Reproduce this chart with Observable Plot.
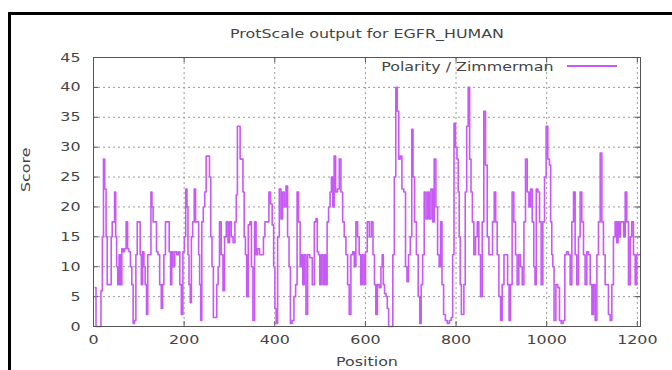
<!DOCTYPE html>
<html><head><meta charset="utf-8">
<script src="https://cdn.jsdelivr.net/npm/d3@7"></script>
<script src="https://cdn.jsdelivr.net/npm/@observablehq/plot@0.6"></script>
<style>
body{margin:0;background:#fff;}
#wrap{position:relative;width:672px;height:370px;overflow:hidden;font-family:"DejaVu Sans",sans-serif;background:#fff;}
#border{position:absolute;left:8px;top:12px;width:700px;height:400px;border-left:3px solid #000;border-top:3px solid #000;pointer-events:none;}
#swatch{position:absolute;left:567px;top:65px;width:50px;height:2px;background:#c75af5;}
#wrap svg{position:absolute;left:0;top:0;}
</style></head><body>
<div id="wrap"><div id="border"></div><div id="swatch"></div></div>
<script>
const title = "ProtScale output for EGFR_HUMAN";
const seriesName = "Polarity / Zimmerman";
const xLabel = "Position";
const yLabel = "Score";
const xTicks = [0, 200, 400, 600, 800, 1000, 1200];
const yTicks = [0, 5, 10, 15, 20, 25, 30, 35, 40, 45];

const positions = [
4,7,15,18,21,23,26.5,29,31.5,37.5,40.5,42,45,48,50,52,55,58,61,64,67,70,74,76.5,80,83,86,89,92,95,98,102,104,107,110,112.5,115.5,118.5,121,125.5,
128,130,133,137.5,140.5,144,148,151,154,156.5,161,165.5,168.5,171.5,174,177,181.5,186,189,192,195.5,199,202,205,207.5,209.5,212,215,217,220.5,
224,226.5,231,233,235.5,237.5,240.5,244,247,250,254.5,257.5,260,263,266,270.5,273.5,276.5,279.5,284,287.5,291,295,298.5,302,306,310,314,316,319,
322,325,328.5,331,334,336.5,339.5,343.5,347,350,353.5,357.5,360,364,369,373.5,376.5,380,385,389,392.5,396,399,401.5,404.5,408,412,415.5,419,423,
426.5,430,433,436,440.5,444,448,450.5,454.5,457.5,460.5,463,467,470.5,474.5,480,485.5,489,492.5,495,498,500.5,504.5,508,511.5,514,517,520.5,523.5,526.5,
529.5,532.5,536,540.5,544,548,551.5,555,559,562.5,566,570,574,577,581,584.5,588,591,595,598.5,602,606,611,615,618.5,621.5,624.5,628.5,633,635.5,
638.5,640.5,644,647,649.5,653,659,662,665.5,668.5,672,675,678.5,682.5,687,690,693.5,697,701,703.5,706.5,710.5,714.5,718.5,721.5,724.5,728,731.5,735.5,739,
742.5,746.5,750,753.5,757.5,761,764.5,767.5,770.5,774.5,778.5,783,787.5,791,794,797,800.5,803.5,806,808,810.5,813,816,818.5,822,825,828.5,831.5,834.5,837.5,
841,845,848.5,852,856,859.5,863,867,870.5,874.5,878.5,882.5,886,889,892.5,896.5,900,903.5,908,912,915.5,918.5,922,925.5,929.5,933,936.5,940.5,944,948,
951.5,955,959,962.5,966,970,973,975.5,978.5,982.5,986,989.5,993.5,997,1000.5,1004.5,1007.5,1010,1012.5,1014.5,1018,1022.5,1026.5,1030,1034,1038,1042,1045.5,
1050,1053.5,1057.5,1061,1064.5,1068.5,1072,1075.5,1079.5,1083,1086.5,1090.5,1094,1098,1101.5,1105,1109,1112.5,1116,1120,1123.5,1127,1131,1134.5,1138,1142,
1145.5,1149,1153,1156,1159,1161.5,1164.5,1168.5,1171.5,1175,1178.5,1182.5,1186,1189.5,1193.5,1197,1200.5,1204.5
];
const scores = [
6.5,0,0,6,15,28,23,15,7,7,15,17.5,17.5,22.5,15,10,7,12,7,13,12.5,13,17.5,13,12.5,10,7,0.5,1,12,17.5,17.5,12,7,12.5,10,7,2,12,12,
22.5,20,17.5,17.5,12.5,12,7,3,7,12,17.5,17.5,12.5,7,12.5,10,12.5,12,12.5,7,2,12.5,15,23,20,12,7,4,15,17.5,
23,17.5,17.5,12,7,1,17.5,20,22.5,28.5,28.5,25,15,10,1.5,1.5,7,10,17.5,12,6,15,17.5,14,17.5,15,14,17.5,22,33.5,
33.5,28,28,22.5,15,12,5,17,17.5,10,1,17.5,12,13,12,12,15,17.5,17.5,22.5,20.5,17,10,3,0.5,15,23,18,22.5,20,
23.5,15,10,0.5,1,5,7,22.5,17.5,10,12,7,12,2,12,11.5,7,17.5,18,12.5,12,7,12,7,12,7,17.5,20,22.5,25,
20,28.5,22.5,23,28,22.5,17.5,15,12,7,2,12,12.5,10,17.5,15,12,7,12,7,12.5,17.5,15,17.5,12,7,2,7,6.5,10,
12,7,5.5,5,3,0,0,12,25,40,36,28,28.5,23,22.5,10,7.5,12,15,33,25,17.5,12,5,0.5,7,12,22.5,18,22.5,
18,23,17.5,28,20,12,10,17.5,7,2,1,0.5,1,1.5,12,34,30,28,22.5,15,7,2,2,7,22.5,33.5,40,28,22.5,17.5,
12,15,17.5,12,5,17.5,36,27,15,12,12,17.5,22.5,17.5,12,5,1,7,12,12,7,1,7,22.5,17.5,12,7,12,10,7,
17.5,28,22.5,20,23,17.5,10,7,23,22.5,17.5,7,17.5,25,33.5,28,27,17.5,12,10,1,7,6.5,1,0.5,1,12,12.5,
12,7,17.5,22.5,12,7,15,22.5,17.5,12,7,12.5,12,7,2,7,1,12,17.5,29,17.5,12,7,7,2,1,
7,15,17.5,14,17.5,15,17.5,17.5,15,22.5,17.5,7,15,17.5,12,7,12,12
];

const data = positions.map((p, i) => ({position: p, score: scores[i]}));

const frameW = 672 - 93 - 32;
const frameH = 370 - 57 - 44;
const ink = "#444";
const lineColor = "#c75af5";
const fs = 12.5;

const chart = Plot.plot({
  width: 672,
  height: 370,
  marginLeft: 93,
  marginRight: 32,
  marginTop: 57,
  marginBottom: 44,
  style: {fontFamily: "'DejaVu Sans', sans-serif", fontSize: fs + "px", color: ink, background: "transparent", overflow: "visible"},
  x: {domain: [0, 1207]},
  y: {domain: [0, 45]},
  marks: [
    Plot.ruleY(yTicks.slice(1, -1), {stroke: "#9a9a9a", strokeDasharray: "2,3", strokeWidth: 1}),
    Plot.ruleX(xTicks.slice(1), {stroke: "#9a9a9a", strokeDasharray: "2,3", strokeWidth: 1}),
    Plot.tickY(yTicks, {stroke: "#555", insetRight: frameW - 5}),
    Plot.tickY(yTicks, {stroke: "#555", insetLeft: frameW - 5}),
    Plot.tickX(xTicks, {stroke: "#555", insetTop: frameH - 5}),
    Plot.tickX(xTicks, {stroke: "#555", insetBottom: frameH - 5}),
    Plot.line(data, {x: "position", y: "score", curve: "step", stroke: lineColor, strokeWidth: 1.6}),
    Plot.frame({stroke: "#555"}),
    Plot.axisX({ticks: xTicks, tickSize: 0, tickPadding: 9, label: null, fill: ink, tickFormat: d => String(d)}),
    Plot.axisY({ticks: yTicks, tickSize: 0, tickPadding: 13, label: null, fill: ink, tickFormat: d => String(d)}),
    Plot.text([title], {frameAnchor: "top", lineAnchor: "middle", dy: -24, fontSize: fs, fill: ink}),
    Plot.text([xLabel], {frameAnchor: "bottom", lineAnchor: "middle", dy: 35, fontSize: fs, fill: ink}),
    Plot.text([yLabel], {frameAnchor: "left", lineAnchor: "middle", dx: -68, rotate: -90, fontSize: fs, fill: ink}),
    Plot.text([seriesName], {frameAnchor: "top-right", lineAnchor: "middle", dx: -87, dy: 9, textAnchor: "end", fontSize: fs, fill: ink})
  ]
});
document.getElementById("wrap").insertBefore(chart, document.getElementById("border"));

// widen glyphs horizontally to match the reference's broad lettering
const stretch = 1.27;
chart.querySelectorAll("text").forEach(t => {
  const n = t.getComputedTextLength();
  if (n > 0) {
    t.setAttribute("textLength", (n * stretch).toFixed(1));
    t.setAttribute("lengthAdjust", "spacingAndGlyphs");
  }
});
</script>
</body></html>
